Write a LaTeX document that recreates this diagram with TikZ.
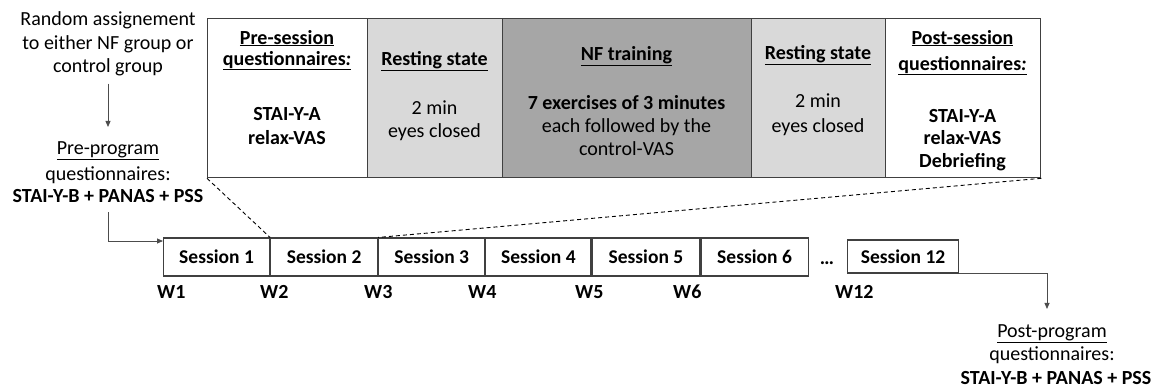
\documentclass[tikz,border=0pt]{standalone}
\usepackage{fontspec}
\setmainfont{Carlito}
\usetikzlibrary{arrows.meta}
\definecolor{lgray}{HTML}{D9D9D9}
\definecolor{dgray}{HTML}{A6A6A6}
\definecolor{edge}{HTML}{404040}
\begin{document}
\begin{tikzpicture}[x=1pt,y=-1pt,
 txt/.style={inner sep=0pt, anchor=base, font=\fontsize{20}{24}\selectfont},
 btxt/.style={txt, font=\fontsize{20}{24}\selectfont\bfseries},
 col/.style={draw=edge, line width=1.3pt, inner sep=0pt, anchor=north west, minimum height=159pt},
 sess/.style={draw=edge, line width=1.1pt, inner sep=0pt, minimum height=38pt, anchor=west, font=\fontsize{19.5}{24}\selectfont\bfseries},
 arr/.style={draw=black!70, line width=0.8pt, -{Triangle[length=6pt,width=5pt]}},
 dashline/.style={draw=black, line width=0.9pt, dash pattern=on 4pt off 3pt}
]
\useasboundingbox (0,0) rectangle (1159,388);

% top session detail box
\node[col, fill=white, minimum width=160pt] (c1) at (207,18) {};
\node[col, fill=lgray, minimum width=135pt] (c2) at (367,18) {};
\node[col, fill=dgray, minimum width=249pt] (c3) at (502,18) {};
\node[col, fill=lgray, minimum width=134pt] (c4) at (751,18) {};
\node[col, fill=white, minimum width=155pt] (c5) at (885,18) {};

% column 1
\node[btxt] (c1a) at (287,44) {\underline{Pre-session}};
\node[btxt] (c1b) at (287,65) {\underline{questionnaires\textit{:}}};
\node[btxt] (c1c) at (287,120) {STAI-Y-A};
\node[btxt] (c1d) at (287,144) {relax-VAS};
% column 2
\node[btxt] (c2a) at (434.5,65) {\underline{Resting state}};
\node[txt] (c2b) at (434.5,114) {2 min};
\node[txt] (c2c) at (434.5,137) {eyes closed};
% column 3
\node[btxt] (c3a) at (626.5,60) {\underline{NF training}};
\node[btxt] (c3b) at (626.5,109) {7 exercises of 3 minutes};
\node[txt] (c3c) at (626.5,132) {each followed by the};
\node[txt] (c3d) at (626.5,155) {control-VAS};
% column 4
\node[btxt] (c4a) at (818,59) {\underline{Resting state}};
\node[txt] (c4b) at (818,107) {2 min};
\node[txt] (c4c) at (818,132) {eyes closed};
% column 5
\node[btxt] (c5a) at (962.5,44) {\underline{Post-session}};
\node[btxt] (c5b) at (962.5,70) {\underline{questionnaires\textit{:}}};
\node[btxt] (c5c) at (962.5,122) {STAI-Y-A};
\node[btxt] (c5d) at (962.5,144) {relax-VAS};
\node[btxt] (c5e) at (962.5,167) {Debriefing};

% sessions
\node[sess, minimum width=106pt] (s1) at (163,257) {Session 1};
\node[sess, minimum width=107pt] (s2) at (s1.east) {Session 2};
\node[sess, minimum width=106pt] (s3) at (s2.east) {Session 3};
\node[sess, minimum width=105pt] (s4) at (s3.east) {Session 4};
\node[sess, minimum width=108pt] (s5) at (s4.east) {Session 5};
\node[sess, minimum width=107pt] (s6) at (s5.east) {Session 6};
\node[btxt] (dots) at (827,264) {\dots};
\node[sess, minimum width=111pt, minimum height=33pt] (s12) at (847,256.5) {Session 12};

% week labels
\node[btxt, anchor=base west] (w1) at (157,298) {W1};
\node[btxt, anchor=base west] (w2) at (260,298) {W2};
\node[btxt, anchor=base west] (w3) at (364,298) {W3};
\node[btxt, anchor=base west] (w4) at (468,298) {W4};
\node[btxt, anchor=base west] (w5) at (575,298) {W5};
\node[btxt, anchor=base west] (w6) at (673,298) {W6};
\node[btxt, anchor=base west] (w12) at (835,298) {W12};

% left texts
\node[txt] (r1) at (108,25) {Random assignement};
\node[txt] (r2) at (108,49) {to either NF group or};
\node[txt] (r3) at (108,72) {control group};
\node[txt] (p1) at (108,154) {\underline{Pre-program}};
\node[txt] (p2) at (108,180) {questionnaires:};
\node[btxt] (p3) at (108,202) {STAI-Y-B + PANAS + PSS};

% right texts
\node[txt] (q1) at (1052,337) {\underline{Post-program}};
\node[txt] (q2) at (1052,360) {questionnaires:};
\node[btxt] (q3) at (1056,384) {STAI-Y-B + PANAS + PSS};

% connectors
\draw[arr] ([yshift=-8pt]r3.south) -- ([yshift=14pt]p1.north);
\draw[arr] ([yshift=-10pt]p3.south) |- ([yshift=16pt]s1.west);
\draw[arr] (s12.south east) -| ([xshift=-5pt,yshift=15pt]q1.north);
\draw[dashline] (c1.south west) -- (s1.north east);
\draw[dashline] (c5.south east) -- (s3.north west);
\end{tikzpicture}
\end{document}
